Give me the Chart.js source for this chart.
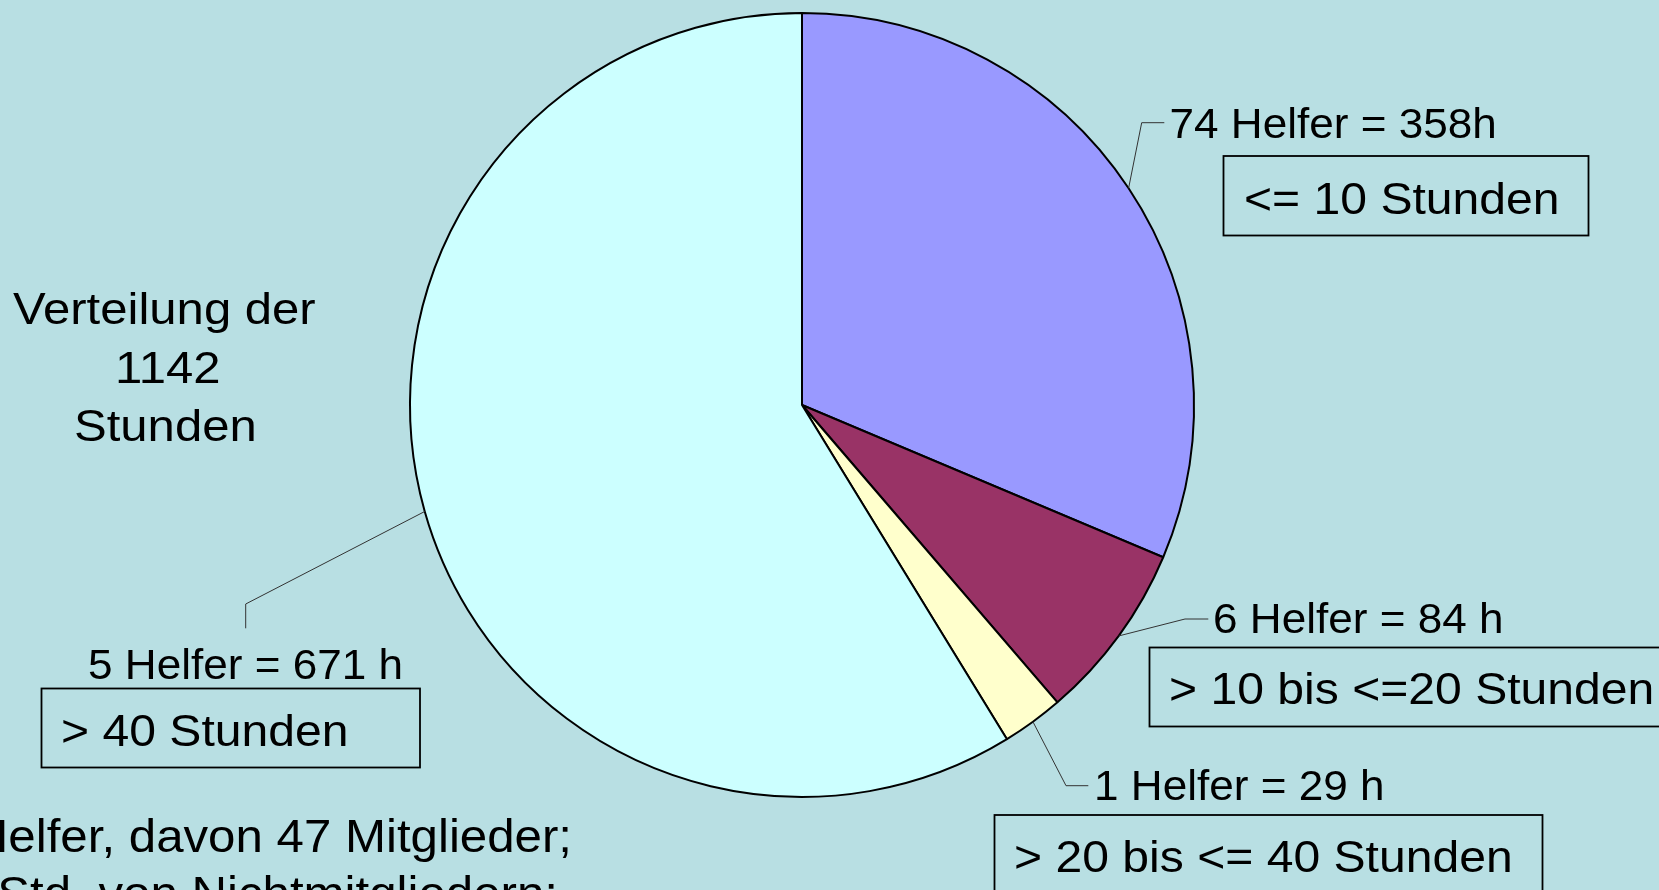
<!DOCTYPE html>
<html>
<head>
<meta charset="utf-8">
<script src="https://cdn.jsdelivr.net/npm/chart.js@4.4.0/dist/chart.umd.min.js"></script>
<style>
  html, body { margin: 0; padding: 0; background: #B8DFE3; overflow: hidden; font-family: "Liberation Sans", Arial, sans-serif; }
  #wrap { position: relative; width: 1659px; height: 890px; }
  canvas { display: block; }
</style>
</head>
<body>
<div id="wrap"><canvas id="c" width="1659" height="890"></canvas></div>
<script>
// ---- data ----
const categories = ['<= 10 Stunden', '> 10 bis <=20 Stunden', '> 20 bis <= 40 Stunden', '> 40 Stunden'];
const hours = [358, 84, 29, 671];
const helpers = [74, 6, 1, 5];
const valueLabels = ['74 Helfer = 358h', '6 Helfer = 84 h', '1 Helfer = 29 h', '5 Helfer = 671 h'];
const sliceColors = ['#9999FF', '#993366', '#FFFFCC', '#CCFFFF'];
const titleLines = ['Verteilung der', '1142', 'Stunden'];
const noteLines = ['86 Helfer, davon 47 Mitglieder;', 'Std. von Nichtmitgliedern;'];

// ---- layout (positions of annotation texts / boxes / leader bends) ----
const FONT = '"Liberation Sans", Arial, sans-serif';
const annot = [
  { bend: [1141.7, 122.7], end: [1164.3, 122.7], label: [1169.5, 138], box: [1223.5, 156, 1588.5, 235.5], boxText: [1244, 213.5] },
  { bend: [1185, 619], end: [1208.3, 619], label: [1213, 633], box: [1149.5, 647.5, 1720, 726.5], boxText: [1169, 703.5] },
  { bend: [1066, 785.7], end: [1088.3, 785.7], label: [1094, 800], box: [994.5, 815, 1542.5, 960], boxText: [1014, 871.5] },
  { bend: [245.7, 604], end: [245.7, 628.3], label: [88, 679], box: [41.5, 688.5, 420, 767.5], boxText: [61, 745.7] }
];
const titlePos = [[13, 324], [115, 383], [74, 441]];
const notePos = [[572, 852], [558, 909]];

function drawText(ctx, text, x, y, size, align, sx) {
  ctx.save();
  ctx.translate(x, y);
  ctx.scale(sx, 1);
  ctx.font = size + 'px ' + FONT;
  ctx.fillStyle = '#000';
  ctx.textBaseline = 'alphabetic';
  ctx.textAlign = align || 'left';
  ctx.fillText(text, 0, 0);
  ctx.restore();
}

const bgPlugin = {
  id: 'bg',
  beforeDraw(chart) {
    const ctx = chart.ctx;
    ctx.save();
    ctx.fillStyle = '#B8DFE3';
    ctx.fillRect(0, 0, chart.width, chart.height);
    ctx.restore();
  }
};

const annotPlugin = {
  id: 'annot',
  afterDatasetsDraw(chart) {
    const ctx = chart.ctx;
    const arcs = chart.getDatasetMeta(0).data;
    arcs.forEach((arc, i) => {
      const p = arc.getProps(['x', 'y', 'startAngle', 'endAngle', 'outerRadius'], true);
      const mid = (p.startAngle + p.endAngle) / 2;
      const ex = p.x + Math.cos(mid) * p.outerRadius;
      const ey = p.y + Math.sin(mid) * p.outerRadius;
      const a = annot[i];
      ctx.save();
      ctx.strokeStyle = '#333';
      ctx.lineWidth = 1;
      ctx.beginPath();
      ctx.moveTo(ex, ey);
      ctx.lineTo(a.bend[0], a.bend[1]);
      ctx.lineTo(a.end[0], a.end[1]);
      ctx.stroke();
      ctx.strokeStyle = '#000';
      ctx.lineWidth = 1.8;
      const b = a.box;
      ctx.strokeRect(b[0], b[1], b[2] - b[0], b[3] - b[1]);
      ctx.restore();
      drawText(ctx, valueLabels[i], a.label[0], a.label[1], 42, 'left', 1.05);
      drawText(ctx, chart.data.labels[i], a.boxText[0], a.boxText[1], 44, 'left', 1.093);
    });
    titleLines.forEach((t, i) => drawText(ctx, t, titlePos[i][0], titlePos[i][1], 45, 'left', 1.09));
    noteLines.forEach((t, i) => drawText(ctx, t, notePos[i][0], notePos[i][1], 46, 'right', 1.07));
  }
};

function build() {
  new Chart(document.getElementById('c'), {
    type: 'pie',
    data: {
      labels: categories,
      datasets: [{
        data: hours,
        backgroundColor: sliceColors,
        borderColor: '#000',
        borderWidth: 2,
        hoverOffset: 0
      }]
    },
    options: {
      responsive: false,
      animation: false,
      radius: 392,
      layout: { padding: { left: 0, right: 55, top: 0, bottom: 80 } },
      plugins: {
        legend: { display: false },
        tooltip: { enabled: false },
        title: { display: false }
      }
    },
    plugins: [bgPlugin, annotPlugin]
  });
}

if (document.fonts && document.fonts.load) {
  document.fonts.load('42px "Liberation Sans"').then(build, build);
} else {
  build();
}
</script>
</body>
</html>
